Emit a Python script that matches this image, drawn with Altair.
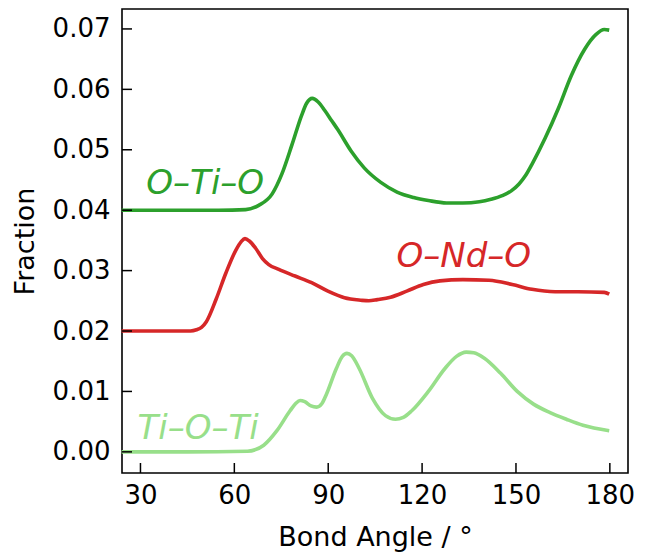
import altair as alt
import pandas as pd

# ---- data ----
oto_angle = [24, 40, 55, 63.6, 67.8, 72.1, 75.2, 78.4, 81.5, 83.1, 84.9, 86.8, 88.9, 91.0, 93.1,
             97.3, 101.5, 106.8, 112.0, 117.3, 122.0, 127.8, 133.0, 138.3, 142.0, 145.6, 148.5,
             150.9, 153.0, 155.1, 159.3, 163.5, 167.7, 171.9, 175.6, 178.2, 179.8]
oto_value = [0.0400, 0.0400, 0.0400, 0.0401, 0.0408, 0.0427, 0.0460, 0.0508, 0.0557, 0.0577, 0.0585,
             0.0579, 0.0565, 0.0549, 0.0533, 0.0498, 0.0470, 0.0446, 0.0430, 0.0421, 0.0416, 0.0412,
             0.0412, 0.0414, 0.0418, 0.0424, 0.0432, 0.0443, 0.0457, 0.0476, 0.0519, 0.0568, 0.0623,
             0.0666, 0.0691, 0.0699, 0.0698]

ond_angle = [24, 35, 46.0, 47.9, 49.5, 51.0, 54.2, 57.3, 60.5, 62.2, 63.4, 64.8, 66.8, 69.0, 71.0,
             74.2, 79.4, 84.7, 89.9, 95.2, 100.4, 103.0, 105.7, 109.9, 115.1, 120.4, 125.7, 133.0,
             141.4, 148.8, 155.1, 162.5, 169.8, 178.2, 179.8]
ond_value = [0.0200, 0.0200, 0.0200, 0.0202, 0.0206, 0.0215, 0.0253, 0.0296, 0.0334, 0.0348, 0.0353,
             0.0349, 0.0337, 0.0320, 0.0310, 0.0302, 0.0291, 0.0280, 0.0266, 0.0255, 0.0251, 0.0250,
             0.0252, 0.0256, 0.0266, 0.0277, 0.0283, 0.0285, 0.0284, 0.0277, 0.0269, 0.0265, 0.0265,
             0.0264, 0.0261]

tot_angle = [24, 45, 64.2, 69.4, 73.6, 77.8, 79.6, 81.0, 82.5, 84.5, 86.3, 88.0, 89.4, 92.6, 94.5,
             96.0, 97.5, 99.9, 104.1, 108.3, 111.5, 114.0, 116.7, 122.0, 127.3, 131.0, 134.1, 136.5,
             139.9, 145.1, 150.4, 155.6, 160.9, 166.1, 171.4, 179.8]
tot_value = [0.0000, 0.0000, 0.0001, 0.0011, 0.0035, 0.0068, 0.0080, 0.0085, 0.0083, 0.0076, 0.0074,
             0.0080, 0.0095, 0.0138, 0.0158, 0.0163, 0.0159, 0.0138, 0.0089, 0.0060, 0.0054, 0.0057,
             0.0068, 0.0100, 0.0138, 0.0158, 0.0165, 0.0164, 0.0155, 0.0130, 0.0100, 0.0079, 0.0065,
             0.0054, 0.0044, 0.0035]

series_names = ["O–Ti–O", "O–Nd–O", "Ti–O–Ti"]
series_colors = ["#2ca02c", "#d62728", "#98df8a"]

label_text = ["O–Ti–O", "O–Nd–O", "Ti–O–Ti"]
label_x = [50.7, 133.3, 48.4]
label_y = [0.0427, 0.0306, 0.0022]

x_ticks = [30, 60, 90, 120, 150, 180]
y_ticks = [0.00, 0.01, 0.02, 0.03, 0.04, 0.05, 0.06, 0.07]

# ---- build tables ----
rows = []
for name, ang, val in zip(series_names, [oto_angle, ond_angle, tot_angle],
                          [oto_value, ond_value, tot_value]):
    for a, v in zip(ang, val):
        rows.append({"series": name, "angle": a, "fraction": v})
df = pd.DataFrame(rows)
labels_df = pd.DataFrame({"text": label_text, "angle": label_x, "fraction": label_y,
                          "series": series_names})
xt_df = pd.DataFrame({"angle": x_ticks})
yt_df = pd.DataFrame({"fraction": y_ticks})

W, H = 506, 464
FONT = "DejaVu Sans"

xscale = alt.Scale(domain=[24.1, 185.8], nice=False, zero=False)
yscale = alt.Scale(domain=[-0.0035, 0.0733], nice=False, zero=False)
cscale = alt.Scale(domain=series_names, range=series_colors)

xaxis = alt.Axis(values=x_ticks, ticks=False, tickSize=0, domain=False, grid=False,
                 labelFontSize=26, labelFont=FONT, labelColor="black", labelPadding=9,
                 title="Bond Angle / °", titleFontSize=27, titleFont=FONT,
                 titleFontWeight="normal", titleColor="black", titlePadding=16,
                 labelFlush=False)
yaxis = alt.Axis(values=y_ticks, format=".2f", ticks=False, tickSize=0, domain=False, grid=False,
                 labelFontSize=26, labelFont=FONT, labelColor="black", labelPadding=12,
                 title="Fraction", titleFontSize=27, titleFont=FONT,
                 titleFontWeight="normal", titleColor="black", titlePadding=13,
                 labelFlush=False)

lines = alt.Chart(df).mark_line(strokeWidth=3.6, interpolate="monotone").encode(
    x=alt.X("angle:Q", scale=xscale, axis=xaxis),
    y=alt.Y("fraction:Q", scale=yscale, axis=yaxis),
    color=alt.Color("series:N", scale=cscale, legend=None),
    detail="series:N",
)

texts = alt.Chart(labels_df).mark_text(fontSize=34, font=FONT, fontStyle="italic",
                                       align="center", baseline="alphabetic").encode(
    x=alt.X("angle:Q", scale=xscale),
    y=alt.Y("fraction:Q", scale=yscale),
    text="text:N",
    color=alt.Color("series:N", scale=cscale, legend=None),
)

xticks = alt.Chart(xt_df).mark_rule(color="black", strokeWidth=1.5).encode(
    x=alt.X("angle:Q", scale=xscale),
    y=alt.value(H),
    y2=alt.value(H - 10),
)
yticks = alt.Chart(yt_df).mark_rule(color="black", strokeWidth=1.5).encode(
    y=alt.Y("fraction:Q", scale=yscale),
    x=alt.value(0),
    x2=alt.value(10),
)

chart = alt.layer(lines, texts, xticks, yticks).properties(
    width=W, height=H,
    background="white",
    autosize=alt.AutoSizeParams(type="none"),
    padding={"left": 114, "top": 1, "right": 9, "bottom": 84},
).configure_view(stroke="black", strokeWidth=1.6)

chart.save("out.html", embed_options={"renderer": "svg", "actions": False})
